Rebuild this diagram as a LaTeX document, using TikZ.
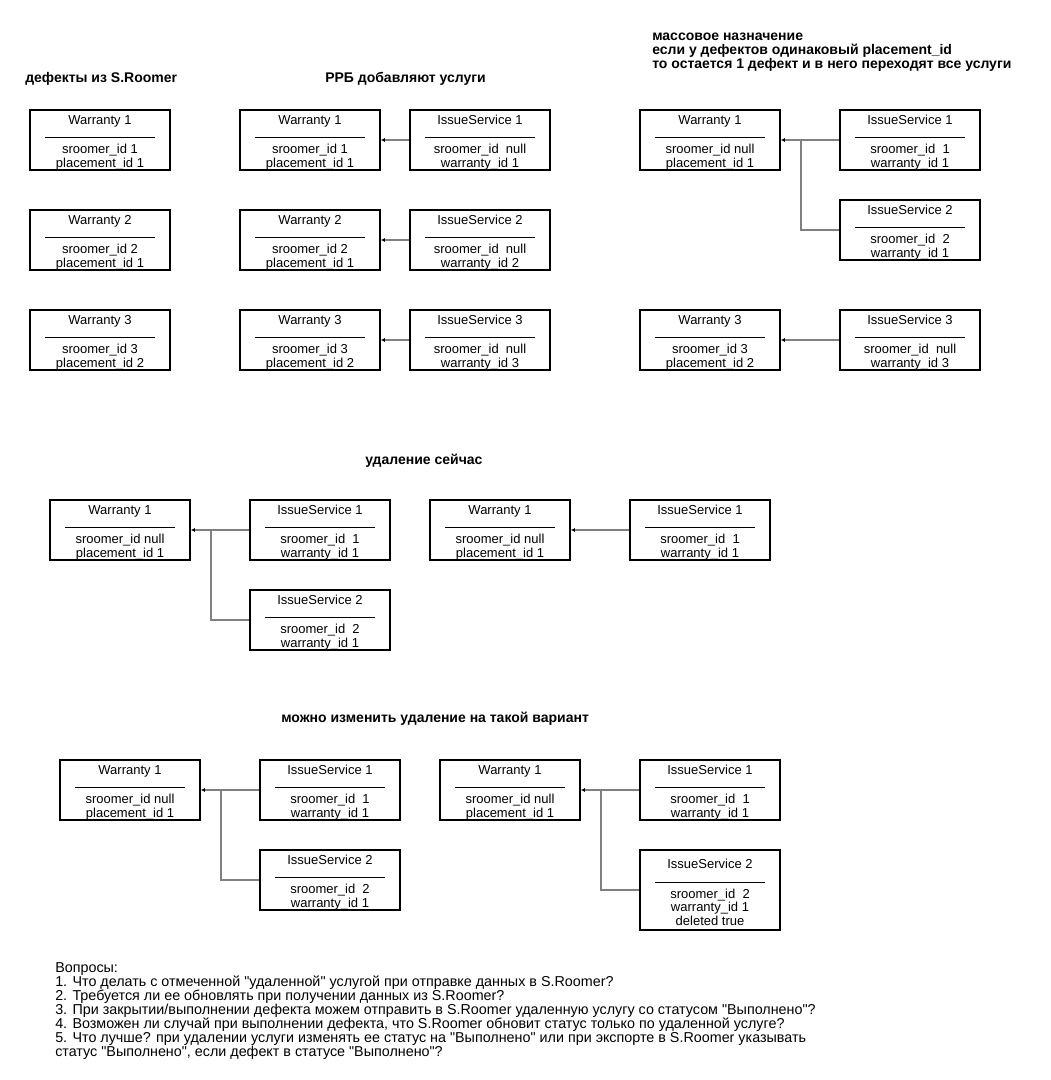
\documentclass[tikz,border=0pt]{standalone}
\usepackage{fontspec}
\setmainfont{Liberation Sans}[Ligatures=TeXOff]
\usepackage{tikz}
\usetikzlibrary{arrows.meta,calc,positioning}
\tikzstyle{entity}=[
	 rectangle, draw, line width=1.3pt,
	 minimum width=105pt, minimum height=45pt,
	 inner sep=0pt, align=center,
	 font=\fontsize{9.75}{10}\selectfont
    ]
\tikzstyle{link}=[draw=gray, line width=1.1pt, -{Latex[length=3pt,width=3pt,color=black]}]
\tikzstyle{branch}=[draw=gray, line width=1.1pt]
\tikzstyle{heading}=[anchor=west, inner sep=0pt, align=left, font=\bfseries\fontsize{10.5}{10.5}\selectfont]
\tikzstyle{notes}=[anchor=west, inner sep=0pt, align=left, font=\fontsize{10.75}{10.5}\selectfont]
\newcommand{\sepline}{\rule[0.15pt]{82.5pt}{0.6pt}}
\newcommand{\pW}[3]{\rule{0pt}{10.5pt}#1\\[0.25pt]\sepline\\[1.9pt]#2\\#3}
\newcommand{\pLink}[2]{\draw[link] (#1.west) -- (#2.east)}
\newcommand{\pBranch}[2]{\draw[branch] let \p1 = (#2.east) in (#1.west) -| (\x1+15pt,\y1)}

\begin{document}
\begin{tikzpicture}[x=0.75pt,y=-0.75pt]
\useasboundingbox (0,0) rectangle (1050,1080);

% headings
\node[heading] (hA) at (25,79) {дефекты из S.Roomer};
\node[heading] (hB) at (325,79) {РРБ добавляют услуги};
\node[heading] (hC) at (652,52) {массовое назначение\\если у дефектов одинаковый placement\_id\\то остается 1 дефект и в него переходят все услуги};
\node[heading] (hD) at (365,461) {удаление сейчас};
\node[heading] (hE) at (281,719) {можно изменить удаление на такой вариант};

% defects from S.Roomer
\node[entity] (W1a) at (100,140) {\pW{Warranty 1}{sroomer\_id 1}{placement\_id 1}};
\node[entity] (W2a) at (100,240) {\pW{Warranty 2}{sroomer\_id 2}{placement\_id 1}};
\node[entity] (W3a) at (100,340) {\pW{Warranty 3}{sroomer\_id 3}{placement\_id 2}};

% services added
\node[entity] (W1b) at (310,140) {\pW{Warranty 1}{sroomer\_id 1}{placement\_id 1}};
\node[entity] (W2b) at (310,240) {\pW{Warranty 2}{sroomer\_id 2}{placement\_id 1}};
\node[entity] (W3b) at (310,340) {\pW{Warranty 3}{sroomer\_id 3}{placement\_id 2}};
\node[entity] (S1b) at (480,140) {\pW{IssueService 1}{sroomer\_id\ \ null}{warranty\_id 1}};
\node[entity] (S2b) at (480,240) {\pW{IssueService 2}{sroomer\_id\ \ null}{warranty\_id 2}};
\node[entity] (S3b) at (480,340) {\pW{IssueService 3}{sroomer\_id\ \ null}{warranty\_id 3}};

\pLink{S1b}{W1b};
\pLink{S2b}{W2b};
\pLink{S3b}{W3b};

% mass assignment
\node[entity] (W1c) at (710,140) {\pW{Warranty 1}{sroomer\_id null}{placement\_id 1}};
\node[entity] (W3c) at (710,340) {\pW{Warranty 3}{sroomer\_id 3}{placement\_id 2}};
\node[entity] (S1c) at (910,140) {\pW{IssueService 1}{sroomer\_id\ \ 1}{warranty\_id 1}};
\node[entity] (S2c) at (910,230) {\pW{IssueService 2}{sroomer\_id\ \ 2}{warranty\_id 1}};
\node[entity] (S3c) at (910,340) {\pW{IssueService 3}{sroomer\_id\ \ null}{warranty\_id 3}};

\pLink{S1c}{W1c};
\pBranch{S2c}{W1c};
\pLink{S3c}{W3c};

% deletion now
\node[entity] (W1d) at (120,530) {\pW{Warranty 1}{sroomer\_id null}{placement\_id 1}};
\node[entity] (S1d) at (320,530) {\pW{IssueService 1}{sroomer\_id\ \ 1}{warranty\_id 1}};
\node[entity] (S2d) at (320,620) {\pW{IssueService 2}{sroomer\_id\ \ 2}{warranty\_id 1}};
\node[entity] (W1e) at (500,530) {\pW{Warranty 1}{sroomer\_id null}{placement\_id 1}};
\node[entity] (S1e) at (700,530) {\pW{IssueService 1}{sroomer\_id\ \ 1}{warranty\_id 1}};

\pLink{S1d}{W1d};
\pBranch{S2d}{W1d};
\pLink{S1e}{W1e};

% proposed deletion
\node[entity] (W1f) at (130,790) {\pW{Warranty 1}{sroomer\_id null}{placement\_id 1}};
\node[entity] (S1f) at (330,790) {\pW{IssueService 1}{sroomer\_id\ \ 1}{warranty\_id 1}};
\node[entity] (S2f) at (330,880) {\pW{IssueService 2}{sroomer\_id\ \ 2}{warranty\_id 1}};
\node[entity] (W1g) at (510,790) {\pW{Warranty 1}{sroomer\_id null}{placement\_id 1}};
\node[entity] (S1g) at (710,790) {\pW{IssueService 1}{sroomer\_id\ \ 1}{warranty\_id 1}};
\node[entity,minimum height=60pt] (S2g) at (710,890) {\pW{IssueService 2}{sroomer\_id\ \ 2}{warranty\_id 1}\\deleted true};

\pLink{S1f}{W1f};
\pBranch{S2f}{W1f};
\pLink{S1g}{W1g};
\pBranch{S2g}{W1g};

% questions
\node[notes] (Q) at (55,1011) {Вопросы:\\
1. Что делать с отмеченной "удаленной" услугой при отправке данных в S.Roomer?\\
2. Требуется ли ее обновлять при получении данных из S.Roomer?\\
3. При закрытии/выполнении дефекта можем отправить в S.Roomer удаленную услугу со статусом "Выполнено"?\\
4. Возможен ли случай при выполнении дефекта, что S.Roomer обновит статус только по удаленной услуге?\\
5. Что лучше? при удалении услуги изменять ее статус на "Выполнено" или при экспорте в S.Roomer указывать\\
статус "Выполнено", если дефект в статусе "Выполнено"?};

\end{tikzpicture}
\end{document}
